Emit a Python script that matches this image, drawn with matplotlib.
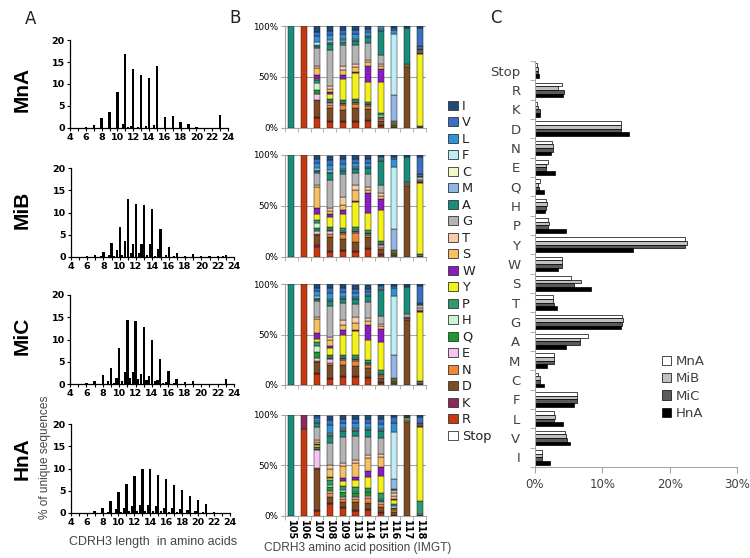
import matplotlib
matplotlib.use('Agg')
import matplotlib.pyplot as plt
import numpy as np
from matplotlib.patches import Patch

plt.rcParams['font.family'] = ['DejaVu Sans']

W, H = 750, 558
fig = plt.figure(figsize=(7.5, 5.58), dpi=100)


def add_ax(l, t, r, b):
    return fig.add_axes([l / W, 1 - b / H, (r - l) / W, (b - t) / H])


# ---------------- Panel A data: CDRH3 length distributions ----------------
samples = ['MnA', 'MiB', 'MiC', 'HnA']
lengths = list(range(4, 25))
# in-frame lengths (integer aa)
MnA_len = [0, 0.1, 0.2, 0.6, 2.3, 3.7, 8.1, 16.9, 13.3, 12.0, 11.3, 14.0, 2.6, 2.7, 1.3, 1.0, 0.2, 0.1, 0.1, 2.9, 0]
MiB_len = [0, 0.05, 0.2, 0.4, 1.1, 3.1, 6.7, 13.1, 11.9, 11.7, 10.7, 6.4, 2.3, 0.8, 0.3, 0.6, 0.2, 0.2, 0.2, 0.5, 0.1]
MiC_len = [0, 0, 0.2, 0.7, 2.0, 3.7, 8.2, 14.3, 14.2, 12.8, 9.9, 5.7, 3.0, 1.2, 0.5, 0.7, 0.1, 0.1, 0.1, 1.1, 0.1]
HnA_len = [0, 0, 0.1, 0.5, 1.2, 2.6, 4.7, 6.6, 8.4, 10.0, 10.0, 8.6, 7.6, 6.3, 5.2, 3.9, 3.0, 2.1, 0.3, 0.1, 0]
# out-of-frame lengths (length + 1/3 and length + 2/3)
MnA_f1 = [0, 0, 0, 0, 0, 0, 0.1, 0.2, 0.1, 0.1, 0.1, 0, 0, 0, 0, 0, 0, 0, 0, 0, 0]
MnA_f2 = [0, 0, 0, 0, 0, 0.1, 0.8, 0.5, 0.3, 0.4, 0.7, 0.1, 0, 0, 0, 0, 0, 0, 0, 0, 0]
MiB_f1 = [0, 0, 0, 0, 0, 0.3, 0.5, 0.8, 0.8, 0.5, 0.3, 0.1, 0, 0, 0, 0, 0, 0, 0, 0, 0]
MiB_f2 = [0, 0, 0, 0.2, 0.5, 1.6, 3.6, 3.0, 3.0, 3.0, 1.7, 0.5, 0.2, 0.1, 0.1, 0, 0, 0, 0.3, 0, 0]
MiC_f1 = [0, 0, 0, 0, 0, 0.3, 0.7, 1.3, 1.1, 0.8, 0.6, 0.2, 0, 0, 0, 0, 0, 0, 0, 0, 0]
MiC_f2 = [0, 0, 0, 0, 0.6, 1.4, 2.8, 2.6, 2.2, 1.7, 1.0, 0.4, 0.2, 0, 0, 0, 0, 0, 0, 0, 0]
HnA_f1 = [0, 0, 0, 0, 0, 0, 0.3, 0.4, 0.5, 0.5, 0.5, 0.4, 0.3, 0.2, 0, 0, 0, 0, 0, 0, 0]
HnA_f2 = [0, 0, 0, 0, 0.3, 0.8, 1.2, 1.5, 1.8, 1.7, 1.5, 1.2, 1.1, 0.8, 0.6, 0.5, 0.3, 0.1, 0, 0, 0]

len_data = {'MnA': (MnA_len, MnA_f1, MnA_f2), 'MiB': (MiB_len, MiB_f1, MiB_f2),
            'MiC': (MiC_len, MiC_f1, MiC_f2), 'HnA': (HnA_len, HnA_f1, HnA_f2)}

# ---------------- Panel B data: amino-acid composition by IMGT position ----------------
positions = ['105', '106', '107', '108', '109', '113', '114', '115', '116', '117', '118']
AA = ['Stop', 'R', 'K', 'D', 'N', 'E', 'Q', 'H', 'P', 'Y', 'W', 'S', 'T', 'G', 'A', 'M', 'C', 'F', 'L', 'V', 'I']

MnA_comp = {
    '105': dict(A=100),
    '106': dict(R=100),
    '107': dict(R=10, K=1, D=16, E=6, Q=4, H=7, P=3, Y=1, W=4, S=7, T=2, G=17, A=2, M=1, F=3, L=6, V=4, I=6),
    '108': dict(R=6, K=1, D=12, N=3, E=2, Q=1, H=1, P=2, Y=5, W=2, S=3, T=3, G=35, A=6, M=1, C=1, F=2, L=5, V=4, I=5),
    '109': dict(R=6, K=1, D=10, N=5, E=1, Q=1, H=1, P=2, Y=21, W=4, S=5, T=4, G=20, A=3, M=2, F=1, L=5, V=4, I=4),
    '113': dict(R=6, K=1, D=12, N=4, E=1, Q=1, H=1, P=2, Y=26, W=1, S=5, T=3, G=18, A=4, M=1, F=1, L=5, V=4, I=4),
    '114': dict(R=7, K=1, D=10, N=3, E=1, Q=1, P=2, Y=20, W=16, S=4, T=2, G=16, A=6, M=1, L=4, V=3, I=3),
    '115': dict(R=2, K=1, D=4, N=2, E=1, Q=1, H=1, P=2, Y=31, W=13, S=3, T=2, G=8, A=24, M=1, F=1, L=3, V=2, I=2),
    '116': dict(D=1, N=1, P=1, Y=1, S=1, T=1, G=1, M=25, F=60, L=4, V=2, I=2),
    '117': dict(D=60, Y=1, S=1, G=1, A=35, V=1, I=1),
    '118': dict(D=1, P=1, Y=70, W=1, S=1, T=1, G=1, A=1, M=1, F=1, L=1, V=18, I=2),
}
MiB_comp = {
    '105': dict(A=100),
    '106': dict(R=100),
    '107': dict(R=10, K=1, D=10, N=1, E=3, Q=3, H=5, P=3, Y=6, W=6, S=20, T=2, G=12, A=2, M=1, F=2, L=5, V=4, I=4),
    '108': dict(R=5, K=1, D=13, N=3, E=3, Q=1, H=1, P=2, Y=10, W=3, S=3, T=3, G=27, A=7, M=1, F=2, L=5, V=5, I=4),
    '109': dict(R=6, K=1, D=10, N=5, E=1, Q=1, H=1, P=3, Y=14, W=4, S=5, T=8, G=22, A=3, M=1, F=1, L=5, V=5, I=4),
    '113': dict(R=5, K=1, D=8, N=9, E=1, Q=1, H=1, P=3, Y=25, W=1, S=10, T=5, G=12, A=4, M=1, F=1, L=4, V=4, I=4),
    '114': dict(R=8, K=1, D=10, N=2, E=1, Q=1, P=3, Y=17, W=19, S=3, T=3, G=13, A=6, M=1, L=4, V=4, I=4),
    '115': dict(R=2, K=1, D=5, N=2, E=1, Q=1, H=1, P=2, Y=31, W=11, S=3, T=2, G=8, A=24, M=1, F=1, L=2, V=1, I=1),
    '116': dict(D=2, N=1, P=1, Y=1, S=1, G=1, M=20, F=61, L=8, V=2, I=2),
    '117': dict(D=69, Y=1, S=1, T=1, G=1, A=25, V=1, I=1),
    '118': dict(D=1, H=1, P=1, Y=69, W=1, S=1, T=1, G=3, A=1, F=1, L=1, V=17, I=2),
}
MiC_comp = {
    '105': dict(A=100),
    '106': dict(R=100),
    '107': dict(R=11, K=1, D=11, N=1, E=3, Q=6, H=6, P=4, Y=3, W=5, S=14, T=2, G=16, A=2, M=1, F=2, L=5, V=3, I=4),
    '108': dict(R=6, K=1, D=13, N=2, E=4, Q=1, H=1, P=2, Y=7, W=2, S=6, T=3, G=30, A=5, M=1, F=1, L=6, V=5, I=4),
    '109': dict(R=8, K=1, D=11, N=5, E=1, Q=1, H=1, P=2, Y=20, W=4, S=5, T=5, G=17, A=4, M=1, F=1, L=5, V=4, I=4),
    '113': dict(R=8, K=1, D=10, N=5, E=1, Q=1, H=1, P=3, Y=23, W=1, S=7, T=6, G=13, A=5, M=1, F=1, L=4, V=4, I=4),
    '114': dict(R=7, K=1, D=9, N=3, E=1, Q=1, P=3, Y=20, W=14, S=4, T=3, G=16, A=6, M=1, L=3, V=3, I=4),
    '115': dict(R=2, K=1, D=4, N=2, E=1, Q=1, H=1, P=3, Y=28, W=12, S=3, T=2, G=8, A=26, M=1, F=1, L=2, V=1, I=1),
    '116': dict(D=2, N=1, P=1, Y=1, S=1, G=1, M=23, F=58, L=8, V=2, I=2),
    '117': dict(D=64, Y=1, W=1, S=1, G=3, A=27, V=1, I=2),
    '118': dict(D=1, N=1, H=1, P=1, Y=68, W=1, S=1, T=2, G=3, A=1, L=1, V=17, I=2),
}
HnA_comp = {
    '105': dict(A=100),
    '106': dict(R=86, K=14),
    '107': dict(R=5, K=1, D=40, N=1, E=18, Q=1, H=1, P=1, Y=2, W=1, S=2, T=2, G=13, A=4, M=1, F=1, L=3, V=2, I=1),
    '108': dict(R=12, K=1, D=6, N=3, E=2, Q=4, H=2, P=5, Y=2, W=1, S=8, T=4, G=22, A=7, M=1, C=1, F=1, L=8, V=5, I=4),
    '109': dict(R=8, K=1, D=5, N=3, E=2, Q=4, H=2, P=4, Y=5, W=3, S=12, T=3, G=26, A=6, M=1, C=1, F=1, L=5, V=4, I=4),
    '113': dict(R=5, K=1, D=8, N=3, E=2, Q=3, H=1, P=5, Y=7, W=3, S=14, T=3, G=24, A=5, M=1, C=1, F=1, L=5, V=4, I=4),
    '114': dict(R=6, K=1, D=6, N=5, E=2, Q=3, H=1, P=3, Y=11, W=6, S=13, T=3, G=18, A=7, M=1, F=1, L=5, V=4, I=4),
    '115': dict(R=3, K=1, D=5, N=3, E=2, Q=2, H=1, P=5, Y=17, W=9, S=10, T=3, G=16, A=7, M=1, F=1, L=5, V=5, I=4),
    '116': dict(R=1, D=3, N=2, E=1, Q=1, H=2, P=2, Y=4, W=1, S=3, T=2, G=3, A=1, M=10, F=47, L=9, V=6, I=2),
    '117': dict(D=93, Y=1, S=1, G=2, A=1, V=1, I=1),
    '118': dict(D=1, H=1, P=13, Y=73, W=1, S=1, G=1, L=1, V=6, I=2),
}
comp_data = {'MnA': MnA_comp, 'MiB': MiB_comp, 'MiC': MiC_comp, 'HnA': HnA_comp}

aa_colors = {
    'Stop': '#ffffff', 'R': '#c8380f', 'K': '#8c2a5c', 'D': '#7d4b24', 'N': '#f0883a',
    'E': '#f7c3f0', 'Q': '#1b9a2e', 'H': '#cdf2d5', 'P': '#2f9a70', 'Y': '#f2f21a',
    'W': '#8b1cc4', 'S': '#f5bf62', 'T': '#f8cbad', 'G': '#b4b4b4', 'A': '#1a8c7c',
    'M': '#8fb7e6', 'C': '#f2f7c4', 'F': '#bdeef7', 'L': '#2e94d8', 'V': '#3a6fc4',
    'I': '#1f4a7a',
}

# ---------------- Panel C data: overall amino-acid usage (%) ----------------
cats_C = ['Stop', 'R', 'K', 'D', 'N', 'E', 'Q', 'H', 'P', 'Y', 'W', 'S', 'T', 'G', 'A', 'M', 'C', 'F', 'L', 'V', 'I']
MnA_freq = [0.3, 4.0, 0.35, 12.7, 2.5, 1.9, 0.8, 1.7, 2.0, 22.3, 4.0, 5.35, 2.6, 12.9, 7.8, 2.8, 0.4, 6.3, 2.8, 4.5, 1.0]
MiB_freq = [0.4, 3.4, 0.45, 12.8, 2.6, 1.6, 0.5, 1.8, 2.1, 22.5, 4.0, 6.8, 2.6, 13.0, 6.7, 2.8, 0.7, 6.2, 3.0, 4.6, 1.0]
MiC_freq = [0.5, 4.3, 0.7, 12.7, 2.7, 1.6, 0.6, 1.7, 2.0, 22.3, 4.0, 5.8, 2.75, 12.9, 6.7, 2.8, 0.75, 6.25, 2.8, 4.7, 1.0]
HnA_freq = [0.6, 4.2, 0.8, 13.9, 2.4, 3.0, 1.3, 1.5, 4.65, 14.5, 3.4, 8.3, 3.3, 12.7, 4.6, 1.8, 1.3, 5.8, 4.2, 5.25, 2.2]
freq_data = {'MnA': MnA_freq, 'MiB': MiB_freq, 'MiC': MiC_freq, 'HnA': HnA_freq}
sample_colors = {'MnA': '#ffffff', 'MiB': '#c0c0c0', 'MiC': '#5a5a5a', 'HnA': '#000000'}

# ---------------- Panel A drawing ----------------
A_boxes = [(70, 40, 228, 128), (70.7, 168, 234, 257), (70, 295, 234, 384), (70.7, 424, 230, 513)]
A_label_y = [89, 210, 336, 459]
lengths_arr = np.array(lengths, dtype=float)
for s, box, ly in zip(samples, A_boxes, A_label_y):
    ax = add_ax(*box)
    main, f1, f2 = len_data[s]
    ax.bar(lengths_arr, main, width=0.28, color='black', linewidth=0)
    ax.bar(lengths_arr + 1 / 3, f1, width=0.26, color='black', linewidth=0)
    ax.bar(lengths_arr + 2 / 3, f2, width=0.26, color='black', linewidth=0)
    ax.set_xlim(4, 24)
    ax.set_ylim(0, 20)
    ax.set_xticks(range(4, 25, 2))
    ax.set_xticks(range(4, 25, 1), minor=True)
    ax.set_yticks(range(0, 21, 5))
    for sp in ['top', 'right']:
        ax.spines[sp].set_visible(False)
    for sp in ['left', 'bottom']:
        ax.spines[sp].set_linewidth(0.9)
    ax.tick_params(axis='both', which='both', length=2.2, width=0.8, labelsize=6.8, pad=1.5)
    for lab in ax.get_xticklabels() + ax.get_yticklabels():
        lab.set_fontweight('bold')
    fig.text(22.5 / W, 1 - ly / H, s, rotation=90, ha='center', va='center',
             fontsize=15, fontweight='bold', family=['Liberation Sans', 'DejaVu Sans'])

fig.text(45 / W, 1 - 457 / H, '% of unique sequences', rotation=90, ha='center', va='center',
         fontsize=8.6, color='#444444', family=['Liberation Sans', 'DejaVu Sans'])
fig.text(153 / W, 1 - 542 / H, 'CDRH3 length  in amino acids', ha='center', va='center',
         fontsize=9, color='#444444', family=['Liberation Sans', 'DejaVu Sans'])

# ---------------- Panel B drawing ----------------
B_boxes = [(285, 26, 426, 127.7), (285, 154.7, 426, 256.7), (285, 284, 426, 385), (285, 414.7, 426, 515.7)]
xpos = np.arange(len(positions))
for k, (s, box) in enumerate(zip(samples, B_boxes)):
    ax = add_ax(*box)
    comp = comp_data[s]
    bottom = np.zeros(len(positions))
    for aa in AA:
        vals = np.array([comp[p].get(aa, 0) for p in positions], dtype=float)
        m = vals > 0
        if m.any():
            ax.bar(xpos[m], vals[m], 0.47, bottom=bottom[m], color=aa_colors[aa],
                   edgecolor='#1a1a1a', linewidth=0.35, zorder=3)
        bottom += vals
    ax.set_xlim(-0.5, len(positions) - 0.5)
    ax.set_ylim(0, 100)
    ax.set_yticks([0, 50, 100])
    ax.set_yticklabels(['0%', '50%', '100%'])
    ax.yaxis.grid(True, color='#a6a6a6', linewidth=0.8, zorder=0)
    ax.set_axisbelow(True)
    for sp in ['top', 'right']:
        ax.spines[sp].set_visible(False)
    for sp in ['left', 'bottom']:
        ax.spines[sp].set_color('#a6a6a6')
        ax.spines[sp].set_linewidth(0.8)
    ax.set_xticks(xpos)
    ax.set_xticks(np.arange(-0.5, len(positions), 1), minor=True)
    ax.tick_params(axis='x', which='major', length=0)
    ax.tick_params(axis='x', which='minor', length=3, color='#a6a6a6')
    ax.tick_params(axis='y', length=3, color='#a6a6a6', labelsize=6.3, pad=2)
    if k == 3:
        ax.set_xticklabels(positions, rotation=-90, fontsize=7, fontweight='bold')
        ax.tick_params(axis='x', which='major', pad=3)
    else:
        ax.set_xticklabels([])

fig.text(358 / W, 1 - 548 / H, 'CDRH3 amino acid position (IMGT)', ha='center', va='center',
         fontsize=8.6, color='#444444', family=['Liberation Sans', 'DejaVu Sans'])

leg_handles = [Patch(facecolor=aa_colors[aa], edgecolor='#333333', linewidth=0.6) for aa in AA[::-1]]
fig.legend(leg_handles, AA[::-1], loc='upper left', bbox_to_anchor=(448 / W, 1 - 100 / H),
           frameon=False, fontsize=9.3, handlelength=0.75, handleheight=0.7, handletextpad=0.35,
           labelspacing=0.27, borderpad=0, borderaxespad=0, labelcolor='#222222')

# ---------------- Panel C drawing ----------------
axc = add_ax(535, 61, 737, 467)
yc = np.arange(len(cats_C))
bh = 0.19
for i, s in enumerate(samples):
    axc.barh(yc + (i - 1.5) * bh, freq_data[s], height=bh, color=sample_colors[s],
             edgecolor='black', linewidth=0.5, label=s)
axc.set_ylim(len(cats_C) - 0.5, -0.5)
axc.set_xlim(0, 30)
axc.set_xticks([0, 10, 20, 30])
axc.set_xticklabels(['0%', '10%', '20%', '30%'])
axc.set_yticks(yc)
axc.set_yticklabels(cats_C)
axc.set_yticks(np.arange(-0.5, len(cats_C), 1), minor=True)
axc.tick_params(axis='y', which='major', length=0, pad=10.5, labelsize=9.5, labelcolor='#404040')
axc.tick_params(axis='y', which='minor', length=3.5, color='#a6a6a6')
axc.tick_params(axis='x', length=4, color='#a6a6a6', labelsize=8.5, labelcolor='#404040', pad=4)
for sp in ['top', 'right']:
    axc.spines[sp].set_visible(False)
for sp in ['left', 'bottom']:
    axc.spines[sp].set_color('#a6a6a6')
    axc.spines[sp].set_linewidth(0.8)
axc.legend(loc='upper left', bbox_to_anchor=(662 / W, 1 - 355 / H), bbox_transform=fig.transFigure,
           frameon=False, fontsize=9.5, handlelength=0.7, handleheight=0.7, handletextpad=0.35,
           labelspacing=0.33, borderpad=0, borderaxespad=0, labelcolor='#404040')

# ---------------- Panel letters ----------------
for letter, (px, py) in zip('ABC', [(31, 19), (235, 18), (496, 18)]):
    fig.text(px / W, 1 - py / H, letter, ha='center', va='center', fontsize=12, color='#222222')

fig.savefig('out.png', dpi=100)
